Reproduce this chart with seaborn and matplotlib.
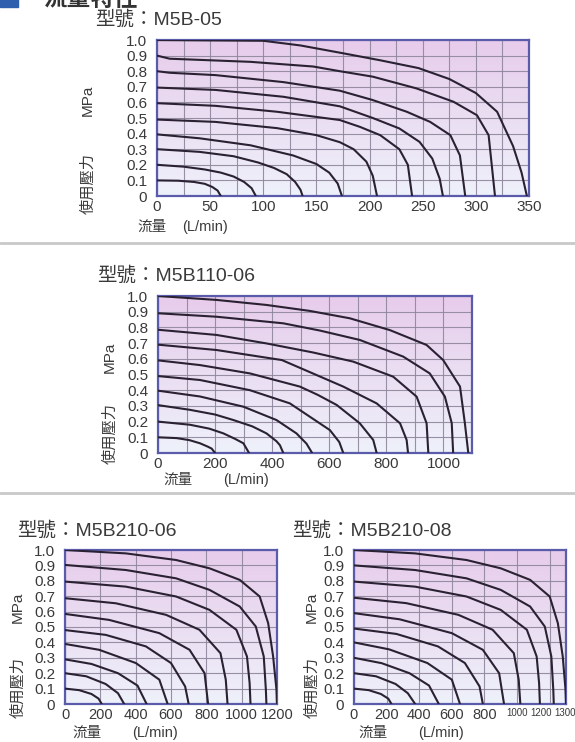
import numpy as np
import pandas as pd
import matplotlib
matplotlib.use("Agg")
import matplotlib.pyplot as plt
from matplotlib.patches import Rectangle
import matplotlib.transforms as mtransforms
import seaborn as sns

# ---------------- data ----------------
LEVELS = [0.1, 0.2, 0.3, 0.4, 0.5, 0.6, 0.7, 0.8, 0.9, 1.0]

M5B05_Q = [
    [0, 20, 35, 45, 52, 57, 60],
    [0, 25, 45, 60, 72, 82, 89, 93],
    [0, 40, 72, 95, 110, 122, 130, 135, 137],
    [0, 40, 88, 128, 150, 162, 170, 174],
    [0, 55, 113, 150, 172, 185, 197, 203, 207],
    [0, 55, 113, 172, 191, 210, 228, 236, 240],
    [0, 55, 119, 172, 203, 228, 247, 259, 266, 269],
    [0, 12, 55, 119, 172, 203, 235, 257, 276, 285, 290],
    [0, 12, 88, 147, 172, 203, 244, 279, 301, 312, 318],
    [0, 100, 135, 175, 210, 246, 275, 300, 320, 335, 343, 348],
]
M5B05_P = [
    [0.10, 0.098, 0.09, 0.078, 0.058, 0.035, 0],
    [0.20, 0.188, 0.17, 0.15, 0.125, 0.09, 0.05, 0],
    [0.30, 0.283, 0.255, 0.215, 0.18, 0.14, 0.09, 0.04, 0],
    [0.395, 0.37, 0.325, 0.26, 0.205, 0.15, 0.08, 0],
    [0.49, 0.475, 0.435, 0.39, 0.345, 0.30, 0.22, 0.13, 0],
    [0.595, 0.578, 0.54, 0.487, 0.443, 0.39, 0.30, 0.20, 0],
    [0.695, 0.68, 0.636, 0.575, 0.50, 0.433, 0.347, 0.24, 0.11, 0],
    [0.80, 0.79, 0.775, 0.73, 0.675, 0.615, 0.54, 0.475, 0.39, 0.26, 0],
    [0.90, 0.88, 0.86, 0.83, 0.80, 0.765, 0.69, 0.604, 0.518, 0.39, 0],
    [1.0, 0.995, 0.965, 0.915, 0.87, 0.82, 0.75, 0.66, 0.54, 0.32, 0.15, 0],
]

M5B110_Q = [
    [0, 65, 110, 147, 175, 188, 200],
    [0, 112, 180, 229, 270, 299, 319],
    [0, 112, 200, 264, 330, 380, 415, 427, 439],
    [0, 147, 299, 415, 485, 520, 540],
    [0, 147, 322, 462, 532, 602, 635, 649],
    [0, 147, 322, 497, 560, 626, 707, 754, 766],
    [0, 205, 434, 532, 649, 766, 848, 871, 876],
    [0, 205, 380, 544, 684, 824, 906, 941, 947],
    [0, 205, 439, 567, 707, 859, 952, 1005, 1029, 1034],
    [0, 205, 380, 532, 672, 812, 941, 999, 1058, 1075, 1087],
]
M5B110_P = [
    [0.10, 0.095, 0.082, 0.062, 0.04, 0.028, 0],
    [0.20, 0.18, 0.155, 0.125, 0.09, 0.062, 0],
    [0.305, 0.275, 0.245, 0.21, 0.17, 0.125, 0.075, 0.05, 0],
    [0.397, 0.36, 0.295, 0.21, 0.125, 0.06, 0],
    [0.49, 0.465, 0.40, 0.316, 0.231, 0.146, 0.07, 0],
    [0.59, 0.56, 0.507, 0.423, 0.37, 0.306, 0.189, 0.083, 0],
    [0.69, 0.656, 0.592, 0.515, 0.423, 0.316, 0.189, 0.083, 0],
    [0.785, 0.752, 0.698, 0.64, 0.582, 0.486, 0.359, 0.189, 0],
    [0.89, 0.868, 0.826, 0.78, 0.72, 0.614, 0.507, 0.359, 0.19, 0],
    [1.0, 0.975, 0.943, 0.905, 0.858, 0.783, 0.688, 0.592, 0.423, 0.19, 0],
]

M5B210_06_Q = [
    [0, 80, 150, 190, 208],
    [0, 120, 230, 300, 335],
    [0, 150, 300, 410, 462],
    [0, 193, 401, 534, 581],
    [0, 230, 458, 600, 680, 700],
    [0, 250, 534, 705, 790, 810],
    [0, 288, 572, 761, 880, 910, 920],
    [0, 345, 629, 818, 970, 1030, 1045, 1050],
    [0, 345, 629, 818, 989, 1080, 1125, 1137, 1140],
    [0, 345, 629, 818, 989, 1102, 1150, 1178, 1197, 1200],
]
M5B210_06_P = [
    [0.10, 0.09, 0.065, 0.035, 0],
    [0.20, 0.18, 0.13, 0.07, 0],
    [0.29, 0.26, 0.20, 0.12, 0],
    [0.39, 0.352, 0.266, 0.158, 0],
    [0.48, 0.449, 0.374, 0.266, 0.114, 0],
    [0.585, 0.546, 0.46, 0.352, 0.2, 0],
    [0.687, 0.654, 0.579, 0.482, 0.33, 0.158, 0],
    [0.795, 0.762, 0.698, 0.611, 0.482, 0.309, 0.136, 0],
    [0.903, 0.87, 0.816, 0.741, 0.633, 0.503, 0.309, 0.093, 0],
    [1.0, 0.978, 0.935, 0.881, 0.806, 0.698, 0.525, 0.309, 0.093, 0],
]

M5B210_08_Q = [
    [0, 90, 165, 210, 230],
    [0, 135, 255, 330, 375],
    [0, 170, 340, 460, 520],
    [0, 215, 450, 600, 650],
    [0, 260, 515, 680, 770, 790],
    [0, 280, 600, 790, 890, 920],
    [0, 320, 640, 850, 980, 1010, 1020],
    [0, 375, 690, 900, 1060, 1120, 1135, 1140],
    [0, 375, 690, 900, 1080, 1170, 1210, 1222, 1225],
    [0, 375, 690, 900, 1080, 1200, 1250, 1280, 1297, 1300],
]
M5B210_08_P = [
    [0.10, 0.09, 0.065, 0.035, 0],
    [0.20, 0.18, 0.13, 0.07, 0],
    [0.30, 0.265, 0.20, 0.12, 0],
    [0.40, 0.355, 0.266, 0.158, 0],
    [0.49, 0.455, 0.374, 0.266, 0.114, 0],
    [0.59, 0.55, 0.46, 0.352, 0.2, 0],
    [0.69, 0.655, 0.579, 0.482, 0.33, 0.158, 0],
    [0.795, 0.762, 0.698, 0.611, 0.482, 0.309, 0.136, 0],
    [0.90, 0.87, 0.816, 0.741, 0.633, 0.503, 0.309, 0.093, 0],
    [1.0, 0.978, 0.935, 0.881, 0.806, 0.698, 0.525, 0.309, 0.093, 0],
]

TITLES = ["型號：M5B-05", "型號：M5B110-06", "型號：M5B210-06", "型號：M5B210-08"]
XMAX = [350, 1100, 1200, 1300]
XTICKS = [
    [0, 50, 100, 150, 200, 250, 300, 350],
    [0, 200, 400, 600, 800, 1000],
    [0, 200, 400, 600, 800, 1000, 1200],
    [0, 200, 400, 600, 800, 1000, 1200, 1300],
]
XGRID = [25, 100, 200, 200]
YTICKS = [0, 0.1, 0.2, 0.3, 0.4, 0.5, 0.6, 0.7, 0.8, 0.9, 1.0]
YTICKLABELS = ["0", "0.1", "0.2", "0.3", "0.4", "0.5", "0.6", "0.7", "0.8", "0.9", "1.0"]

# ---------------- style ----------------
sns.set_theme(style="white")
plt.rcParams["font.family"] = ["Liberation Sans", "Noto Sans CJK TC", "DejaVu Sans"]

W, H = 575, 742
fig = plt.figure(figsize=(W / 100, H / 100), dpi=100)
fig.patch.set_facecolor("white")

TXT = "#3a3a3a"
CURVE = "#2a2233"
GRID = "#8e869c"
SPINE = "#5a5cab"

def px(x, y):
    return x / W, 1 - y / H

# axes boxes in pixels: left, right, top, bottom
BOXES = [(157, 529, 40, 196), (158, 472, 296, 453), (65, 277, 550, 704), (354, 566, 550, 704)]
ALLQ = [M5B05_Q, M5B110_Q, M5B210_06_Q, M5B210_08_Q]
ALLP = [M5B05_P, M5B110_P, M5B210_06_P, M5B210_08_P]

grad = np.linspace(0, 1, 256)[:, None]
top_c = np.array([231, 204, 235]) / 255.0
bot_c = np.array([238, 241, 250]) / 255.0
grad_img = top_c[None, None, :] * (1 - grad[:, :, None]) + bot_c[None, None, :] * grad[:, :, None]

axes = []
for i, (l, r, t, b) in enumerate(BOXES):
    ax = fig.add_axes([l / W, 1 - b / H, (r - l) / W, (b - t) / H])
    axes.append(ax)
    ax.imshow(grad_img, extent=[0, XMAX[i], 0, 1.0], aspect="auto", zorder=0, origin="upper")

    rows = []
    for k, (qs, ps) in enumerate(zip(ALLQ[i], ALLP[i])):
        for q, p in zip(qs, ps):
            rows.append({"curve": k, "q": q, "p": p})
    df = pd.DataFrame(rows)
    sns.lineplot(data=df, x="q", y="p", units="curve", estimator=None, sort=False,
                 color=CURVE, lw=1.5, ax=ax, zorder=3)

    ax.set_xlim(0, XMAX[i])
    ax.set_ylim(0, 1.0)
    ax.set_xticks(XTICKS[i])
    ax.set_xticks(np.arange(0, XMAX[i] + 1, XGRID[i]), minor=True)
    ax.set_yticks(YTICKS)
    ax.set_yticklabels(YTICKLABELS)
    ax.set_axisbelow(True)
    ax.grid(which="both", color=GRID, lw=0.8, alpha=0.9)
    ax.set_xlabel("")
    ax.set_ylabel("")
    fs = 11 if i < 2 else 10.5
    ax.tick_params(axis="both", which="both", length=0, colors=TXT)
    ax.tick_params(axis="y", pad=7, labelsize=11)
    ax.tick_params(axis="x", pad=3, labelsize=fs)
    for s in ax.spines.values():
        s.set_color(SPINE)
        s.set_linewidth(1.6)
        s.set_visible(True)
    for lab in ax.get_xticklabels() + ax.get_yticklabels():
        lab.set_color(TXT)

# crowded last labels on panel 4 (smaller, nudged as in the reference)
for lab in axes[3].get_xticklabels():
    txt = lab.get_text()
    if txt == "1000":
        lab.set_fontsize(7)
    elif txt == "1200":
        lab.set_fontsize(7)
        lab.set_transform(lab.get_transform() + mtransforms.ScaledTranslation(-9 / 100, 0, fig.dpi_scale_trans))
    elif txt == "1300":
        lab.set_fontsize(7)
        lab.set_horizontalalignment("left")
        lab.set_transform(lab.get_transform() + mtransforms.ScaledTranslation(-12 / 100, 0, fig.dpi_scale_trans))

# titles
title_pos = [(95, 19), (97, 275), (17, 530), (292, 530)]
for (x, y), t in zip(title_pos, TITLES):
    fig.text(*px(x, y), t, fontsize=14, color=TXT, ha="left", va="center")

# y labels (rotated)
ylab_pos = [(88, 100, 183), (110, 357, 433), (18, 607, 687), (312, 607, 687)]
for x, ym, yc in ylab_pos:
    fig.text(*px(x, ym), "MPa", rotation=90, fontsize=11, color=TXT, ha="center", va="center")
    fig.text(*px(x, yc), "使用壓力", rotation=90, fontsize=11, color=TXT, ha="center", va="center")

# x labels
xlab_pos = [(137, 182, 227), (163, 223, 480), (72, 132, 733), (358, 418, 733)]
for x1, x2, y in xlab_pos:
    fig.text(*px(x1, y), "流量", fontsize=10.5, color=TXT, ha="left", va="center")
    fig.text(*px(x2, y), "(L/min)", fontsize=10.5, color=TXT, ha="left", va="center")

# header (cut off at top) and separators
fig.text(*px(43, -1), "流量特性", fontsize=17, fontweight="bold", color="#333333",
         ha="left", va="center")
fig.patches.append(Rectangle(px(0, 7), 18 / W, 9 / H, transform=fig.transFigure,
                             color="#2d5fae", zorder=5))
for y in (243, 493):
    fig.add_artist(plt.Line2D([0, 1], [1 - y / H, 1 - y / H], transform=fig.transFigure,
                              color="#c9c9c9", lw=2))

fig.savefig("out.png", dpi=100, facecolor="white")
